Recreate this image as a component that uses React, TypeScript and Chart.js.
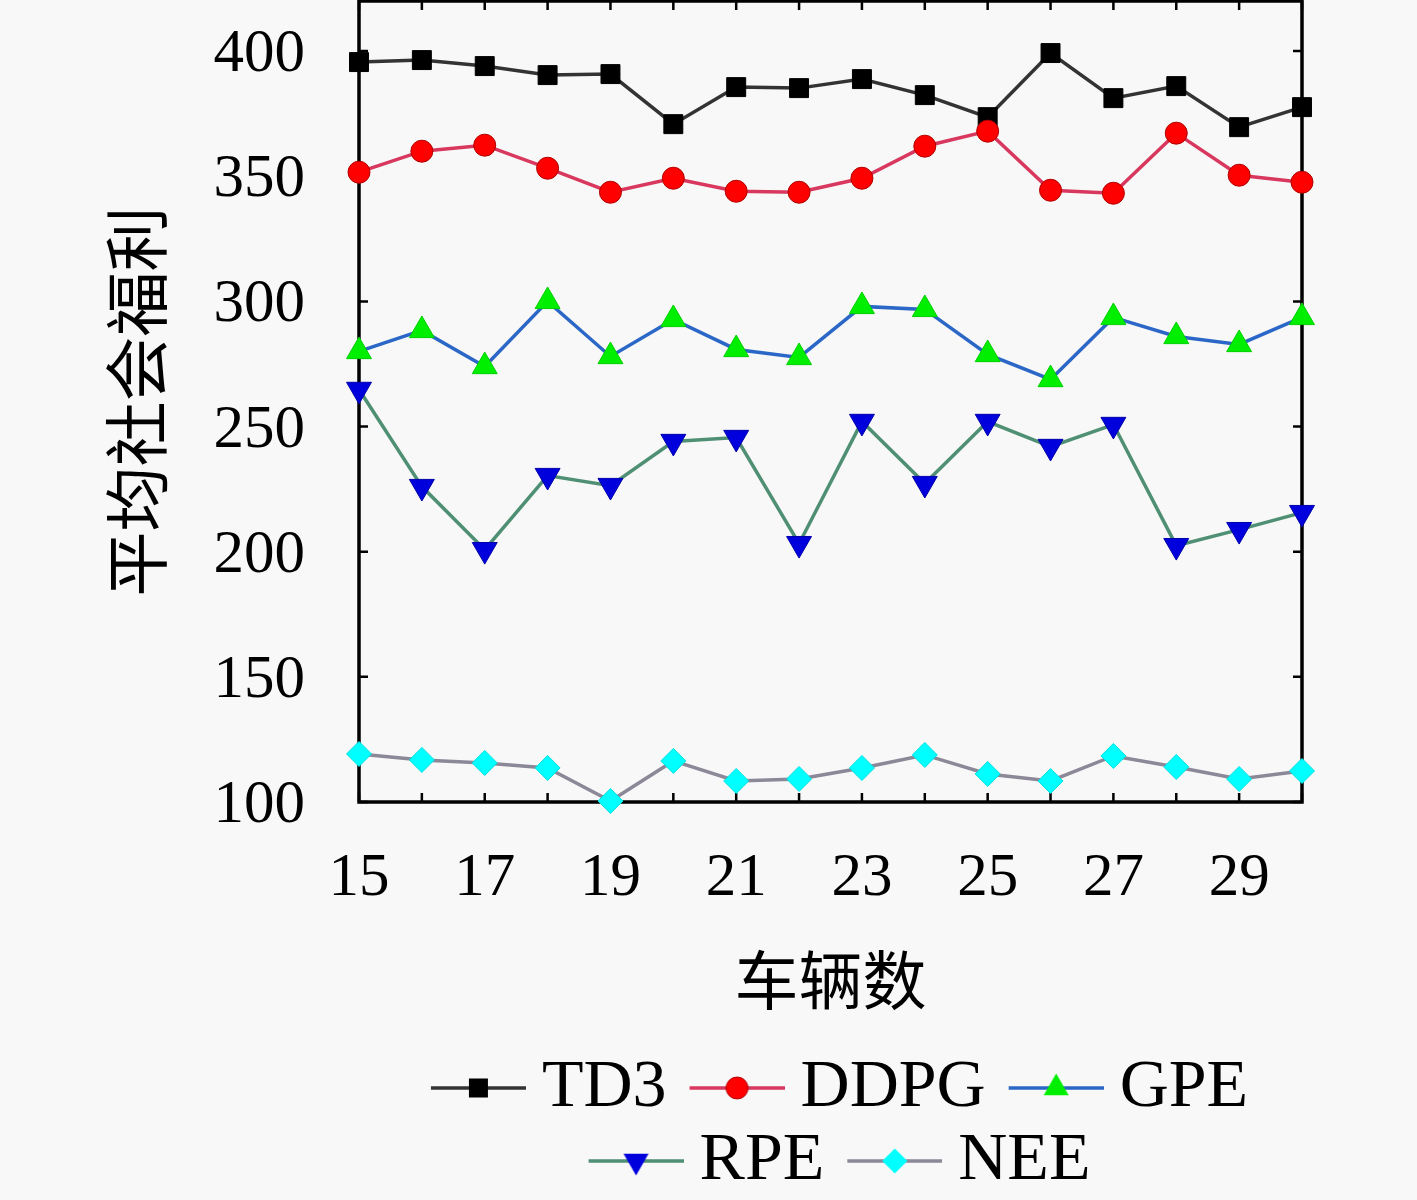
import React, { useEffect, useRef } from "react";
import { Chart, registerables, type ChartConfiguration, type Plugin } from "chart.js";

Chart.register(...registerables);

// 车辆数 (x axis)
const vehicles = [15, 16, 17, 18, 19, 20, 21, 22, 23, 24, 25, 26, 27, 28, 29, 30];

// 平均社会福利 per method
const td3 = [395.6, 396.4, 394, 390.4, 390.8, 370.8, 385.6, 385.2, 388.8, 382.4, 373.6, 399.2, 381.2, 386, 369.6, 377.6];
const ddpg = [351.6, 360, 362.4, 353.2, 343.6, 349.2, 344, 343.6, 349.2, 362, 368, 344.4, 343.2, 367.2, 350.4, 347.6];
const gpe = [280, 288.4, 274, 300, 278, 292.8, 280.8, 277.6, 298, 296.8, 278.8, 268.8, 293.6, 286, 282.8, 293.6];
const rpe = [264.8, 226, 200.8, 230.4, 226.4, 244, 245.6, 203.2, 252, 227.2, 252, 242, 250.8, 202.4, 208.8, 215.6];
const nee = [119.2, 116.8, 115.6, 113.6, 100.4, 116.4, 108.4, 109.2, 113.6, 118.8, 111.2, 108.4, 118.4, 114, 109.2, 112.4];

const xLabelTicks = [15, 17, 19, 21, 23, 25, 27, 29];
const yLabelTicks = [100, 150, 200, 250, 300, 350, 400];

const SERIF = "'Liberation Serif', 'Times New Roman', serif";
const CJK = "'Noto Sans CJK SC', sans-serif";
const BG = "#f8f8f8";

type MarkerFn = (ctx: CanvasRenderingContext2D, x: number, y: number) => void;

const squareMarker: MarkerFn = (ctx, x, y) => {
  ctx.fillStyle = "#000";
  ctx.fillRect(x - 9.5, y - 9.5, 19, 19);
};
const circleMarker: MarkerFn = (ctx, x, y) => {
  ctx.fillStyle = "#ff0000";
  ctx.strokeStyle = "#b00000";
  ctx.lineWidth = 1;
  ctx.beginPath();
  ctx.arc(x, y, 11, 0, Math.PI * 2);
  ctx.fill();
  ctx.stroke();
};
const triUpMarker: MarkerFn = (ctx, x, y) => {
  ctx.fillStyle = "#00ee00";
  ctx.beginPath();
  ctx.moveTo(x, y - 14.4);
  ctx.lineTo(x + 12.5, y + 7.2);
  ctx.lineTo(x - 12.5, y + 7.2);
  ctx.closePath();
  ctx.fill();
};
const triDownMarker: MarkerFn = (ctx, x, y) => {
  ctx.fillStyle = "#0000dd";
  ctx.beginPath();
  ctx.moveTo(x, y + 14.4);
  ctx.lineTo(x + 12.5, y - 7.2);
  ctx.lineTo(x - 12.5, y - 7.2);
  ctx.closePath();
  ctx.fill();
};
const diamondMarker: MarkerFn = (ctx, x, y) => {
  ctx.fillStyle = "#00ffff";
  ctx.beginPath();
  ctx.moveTo(x, y - 12.5);
  ctx.lineTo(x + 12.5, y);
  ctx.lineTo(x, y + 12.5);
  ctx.lineTo(x - 12.5, y);
  ctx.closePath();
  ctx.fill();
};

// legend swatch: a short line with the marker in the middle.
// The image is wider than the legend box so the line sits close to its label.
function legendSwatch(lineColor: string, marker: MarkerFn) {
  const c = document.createElement("canvas");
  c.width = 131;
  c.height = 34;
  const ctx = c.getContext("2d")!;
  ctx.strokeStyle = lineColor;
  ctx.lineWidth = 3.5;
  ctx.beginPath();
  ctx.moveTo(36, 17);
  ctx.lineTo(131, 17);
  ctx.stroke();
  marker(ctx, 83.5, 17);
  return c;
}

const backgroundPlugin: Plugin<"line"> = {
  id: "bg",
  beforeDraw(chart) {
    const { ctx, width, height } = chart;
    ctx.save();
    ctx.fillStyle = BG;
    ctx.fillRect(0, 0, width, height);
    ctx.restore();
  },
};

// box around the plot with inward ticks on all four sides
const framePlugin: Plugin<"line"> = {
  id: "frame",
  beforeDatasetsDraw(chart) {
    const { ctx, chartArea: a, scales } = chart;
    const xs = scales.x;
    const ys = scales.y;
    const tl = 9;
    ctx.save();
    ctx.strokeStyle = "#000";
    ctx.lineWidth = 2.5;
    ctx.beginPath();
    xs.ticks.forEach((t) => {
      const px = xs.getPixelForValue(t.value);
      ctx.moveTo(px, a.bottom);
      ctx.lineTo(px, a.bottom - tl);
      ctx.moveTo(px, a.top);
      ctx.lineTo(px, a.top + tl);
    });
    ys.ticks.forEach((t) => {
      const py = ys.getPixelForValue(t.value);
      ctx.moveTo(a.left, py);
      ctx.lineTo(a.left + tl, py);
      ctx.moveTo(a.right, py);
      ctx.lineTo(a.right - tl, py);
    });
    ctx.stroke();
    ctx.lineWidth = 3.5;
    ctx.strokeRect(a.left, a.top, a.right - a.left, a.bottom - a.top);
    ctx.restore();
  },
};

const toPoints = (ys: number[]) => ys.map((y, i) => ({ x: vehicles[i], y }));

export default function App() {
  const canvasRef = useRef<HTMLCanvasElement | null>(null);
  const chartRef = useRef<Chart<"line"> | null>(null);

  useEffect(() => {
    document.body.style.margin = "0";
    document.body.style.background = BG;
    if (!canvasRef.current) return;

    const swatches = [
      legendSwatch("#333333", squareMarker),
      legendSwatch("#d9385e", circleMarker),
      legendSwatch("#2b67c6", triUpMarker),
      legendSwatch("#4f8f73", triDownMarker),
      legendSwatch("#8c8898", diamondMarker),
    ];

    const config: ChartConfiguration<"line"> = {
      type: "line",
      data: {
        datasets: [
          {
            label: "TD3",
            data: toPoints(td3),
            borderColor: "#333333",
            borderWidth: 3.5,
            pointStyle: "rect",
            pointRadius: 13.4,
            pointBackgroundColor: "#000",
            pointBorderColor: "#000",
            pointBorderWidth: 1,
            clip: false,
            order: 5,
          },
          {
            label: "DDPG",
            data: toPoints(ddpg),
            borderColor: "#d9385e",
            borderWidth: 3.5,
            pointStyle: "circle",
            pointRadius: 11,
            pointBackgroundColor: "#ff0000",
            pointBorderColor: "#b00000",
            pointBorderWidth: 1,
            clip: false,
            order: 4,
          },
          {
            label: "GPE",
            data: toPoints(gpe),
            borderColor: "#2b67c6",
            borderWidth: 3.5,
            pointStyle: "triangle",
            pointRadius: 14.4,
            pointBackgroundColor: "#00ee00",
            pointBorderColor: "#00d000",
            pointBorderWidth: 1,
            clip: false,
            order: 3,
          },
          {
            label: "RPE",
            data: toPoints(rpe),
            borderColor: "#4f8f73",
            borderWidth: 3.5,
            pointStyle: "triangle",
            pointRotation: 180,
            pointRadius: 14.4,
            pointBackgroundColor: "#0000dd",
            pointBorderColor: "#0000aa",
            pointBorderWidth: 1,
            clip: false,
            order: 2,
          },
          {
            label: "NEE",
            data: toPoints(nee),
            borderColor: "#8c8898",
            borderWidth: 3.5,
            pointStyle: "rectRot",
            pointRadius: 12.5,
            pointBackgroundColor: "#00ffff",
            pointBorderColor: "#00e0e0",
            pointBorderWidth: 1,
            clip: false,
            order: 1,
          },
        ],
      },
      options: {
        responsive: false,
        animation: false,
        layout: { autoPadding: false, padding: { left: 0, right: 115, top: 1, bottom: -5 } },
        plugins: {
          tooltip: { enabled: false },
          legend: {
            position: "bottom",
            fullSize: false,
            labels: {
              usePointStyle: true,
              pointStyleWidth: 95,
              padding: 5,
              color: "#000",
              font: { family: SERIF, size: 68 },
              generateLabels: (chart) =>
                chart.data.datasets.map((ds, i) => ({
                  text: String(ds.label),
                  pointStyle: swatches[i],
                  fillStyle: "rgba(0,0,0,0)",
                  strokeStyle: "rgba(0,0,0,0)",
                  lineWidth: 0,
                  hidden: false,
                  datasetIndex: i,
                  fontColor: "#000",
                })),
            },
          },
        },
        scales: {
          x: {
            type: "linear",
            min: 15,
            max: 30,
            grid: { display: false, drawTicks: false },
            border: { display: false },
            ticks: {
              stepSize: 1,
              autoSkip: false,
              maxRotation: 0,
              padding: 40,
              color: "#000",
              font: { family: SERIF, size: 61 },
              callback: (v) => (xLabelTicks.includes(Number(v)) ? String(v) : ""),
            },
            title: {
              display: true,
              text: "车辆数",
              color: "#000",
              font: { family: CJK, size: 64 },
              padding: { top: 0, bottom: 31 },
            },
            afterFit: (s) => {
              s.height = 247;
              s.paddingLeft = 0;
              s.paddingRight = 0;
            },
          },
          y: {
            type: "linear",
            min: 100,
            max: 420,
            grid: { display: false, drawTicks: false },
            border: { display: false },
            ticks: {
              stepSize: 25,
              includeBounds: false,
              padding: 54,
              labelOffset: 4,
              color: "#000",
              font: { family: SERIF, size: 61 },
              callback: (v) => (yLabelTicks.includes(Number(v)) ? String(v) : ""),
            },
            title: {
              display: true,
              text: "平均社会福利",
              color: "#000",
              font: { family: CJK, size: 65 },
              padding: { top: 97, bottom: 0 },
            },
            afterFit: (s) => {
              s.width = 359;
              s.paddingTop = 0;
              s.paddingBottom = 0;
            },
          },
        },
      },
      plugins: [backgroundPlugin, framePlugin],
    };

    chartRef.current = new Chart(canvasRef.current, config);

    return () => {
      chartRef.current?.destroy();
      chartRef.current = null;
    };
  }, []);

  return (
    <div style={{ width: 1417, height: 1200, background: BG }}>
      <canvas ref={canvasRef} width={1417} height={1200} aria-label="平均社会福利与车辆数" />
    </div>
  );
}
